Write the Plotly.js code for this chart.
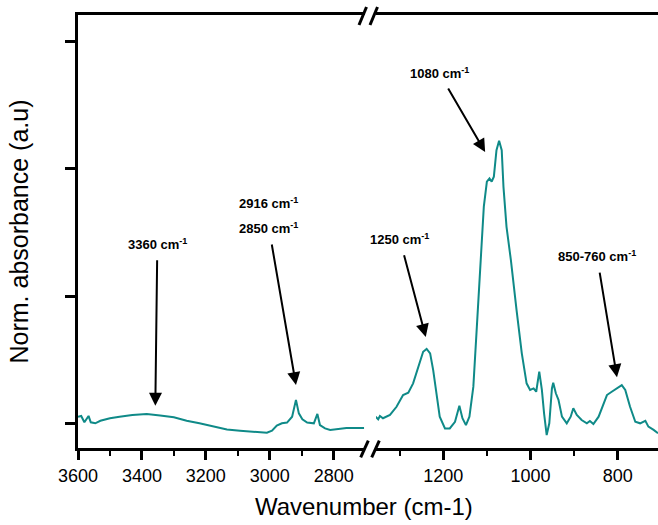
<!DOCTYPE html>
<html>
<head>
<meta charset="utf-8">
<script src="https://cdn.plot.ly/plotly-3.0.1.min.js"></script>
<style>html,body{margin:0;padding:0;background:#fff;}#chart{width:658px;height:525px;}</style>
</head>
<body>
<div id="chart"></div>
<script>
// High-wavenumber region (left panel)
const leftWavenumber = [3600,3590,3580,3567,3560,3546,3530,3500,3470,3430,3385,3360,3343,3300,3260,3220,3176,3134,3093,3050,3009,2993,2978,2962,2946,2930,2918,2909,2898,2883,2862,2851,2843,2827,2811,2760,2705];
const leftAbs = [0.026,0.029,0.004,0.029,0.004,0.000,0.010,0.020,0.026,0.033,0.037,0.035,0.031,0.024,0.010,0.000,-0.013,-0.024,-0.029,-0.033,-0.037,-0.029,-0.009,0.000,0.003,0.026,0.092,0.039,0.016,0.003,0.000,0.037,-0.007,-0.020,-0.026,-0.018,-0.018];

// Fingerprint region (right panel)
const rightWavenumber = [1355,1349,1345,1338,1322,1307,1292,1280,1269,1257,1246,1238,1230,1223,1215,1208,1196,1185,1173,1163,1156,1148,1140,1131,1123,1114,1107,1100,1094,1089,1084,1078,1072,1066,1062,1055,1045,1032,1020,1009,1001,993,987,980,974,969,963,957,951,948,942,936,928,917,908,902,894,883,871,864,856,844,833,825,814,802,791,783,772,760,749,737,730,718,708];
const rightAbs = [0.026,0.016,0.029,0.020,0.033,0.065,0.111,0.120,0.157,0.222,0.281,0.292,0.275,0.209,0.118,0.026,-0.020,-0.020,0.006,0.069,0.020,-0.007,0.026,0.144,0.379,0.641,0.851,0.949,0.962,0.949,0.969,1.073,1.110,1.073,0.929,0.772,0.641,0.445,0.275,0.157,0.131,0.137,0.124,0.203,0.131,0.039,-0.046,0.000,0.137,0.159,0.118,0.092,0.026,0.000,0.026,0.059,0.033,0.013,0.000,0.009,-0.003,0.026,0.079,0.111,0.124,0.137,0.150,0.131,0.065,0.006,0.000,0.010,-0.013,-0.026,-0.039];

// Tick labels
const leftMajorTicks = [3600,3400,3200,3000,2800];
const leftMinorTicks = [3500,3300,3100,2900];
const rightMajorTicks = [1200,1000,800];
const rightMinorTicks = [1300,1100,900];
const yTicks = [0,0.5,1,1.5];

// Peak labels and the points their arrows mark
const peakLabels = ['3360 cm<sup>-1</sup>','2850 cm<sup>-1</sup>','1250 cm<sup>-1</sup>','1080 cm<sup>-1</sup>','850-760 cm<sup>-1</sup>'];
const extraLabel = '2916 cm<sup>-1</sup>';
const arrowAxis = ['x','x','x2','x2','x2'];
const arrowWavenumber = [3358,2918,1240,1104,802];
const arrowAbs = [0.069,0.150,0.339,1.066,0.181];

const FONT = 'Arial, "Liberation Sans", sans-serif';
const TEAL = '#0f8a88';

// pixel -> paper helpers (plot area 78..658 x 15..448)
const px = p => (p - 78) / 580;
const py = p => (448 - p) / 433;

const traces = [
  {x: leftWavenumber, y: leftAbs, xaxis: 'x', yaxis: 'y', mode: 'lines', line: {color: TEAL, width: 2}, hoverinfo: 'skip'},
  {x: rightWavenumber, y: rightAbs, xaxis: 'x2', yaxis: 'y', mode: 'lines', line: {color: TEAL, width: 2}, hoverinfo: 'skip'}
];

const xCommon = {
  showline: true, linewidth: 3, linecolor: '#000', mirror: true,
  ticks: 'outside', ticklen: 9, tickwidth: 3, tickcolor: '#000',
  showgrid: false, zeroline: false,
  tickfont: {family: FONT, size: 18, color: '#000'},
  anchor: 'y', fixedrange: true
};

const layout = {
  width: 658, height: 525,
  margin: {l: 78, r: 0, t: 15, b: 77},
  paper_bgcolor: '#fff', plot_bgcolor: '#fff',
  showlegend: false,
  font: {family: FONT, color: '#000'},
  xaxis: Object.assign({}, xCommon, {
    domain: [0, px(365)], range: [3600, 2702],
    tickmode: 'array', tickvals: leftMajorTicks, ticktext: leftMajorTicks.map(String),
    minor: {tickmode: 'array', tickvals: leftMinorTicks, ticks: 'outside', ticklen: 5, tickwidth: 2, tickcolor: '#000', showgrid: false}
  }),
  xaxis2: Object.assign({}, xCommon, {
    domain: [px(376), 1], range: [1354, 708],
    tickmode: 'array', tickvals: rightMajorTicks, ticktext: rightMajorTicks.map(String),
    minor: {tickmode: 'array', tickvals: rightMinorTicks, ticks: 'outside', ticklen: 5, tickwidth: 2, tickcolor: '#000', showgrid: false}
  }),
  yaxis: {
    domain: [0, 1], range: [-0.097, 1.604],
    showline: true, linewidth: 3, linecolor: '#000',
    ticks: 'outside', ticklen: 10, tickwidth: 3, tickcolor: '#000',
    tickmode: 'array', tickvals: yTicks, showticklabels: false,
    showgrid: false, zeroline: false, fixedrange: true,
    title: {text: 'Norm. absorbance (a.u)', font: {family: FONT, size: 25, color: '#000'}, standoff: 30}
  },
  shapes: [
    {type: 'line', xref: 'paper', yref: 'paper', x0: px(360.7), y0: py(457.3), x1: px(368.3), y1: py(440.7), line: {color: '#000', width: 3}},
    {type: 'line', xref: 'paper', yref: 'paper', x0: px(371.7), y0: py(457.3), x1: px(379.3), y1: py(440.7), line: {color: '#000', width: 3}},
    {type: 'line', xref: 'paper', yref: 'paper', x0: px(359), y0: py(25), x1: px(366.5), y1: py(7), line: {color: '#000', width: 3}},
    {type: 'line', xref: 'paper', yref: 'paper', x0: px(370), y0: py(25), x1: px(377.5), y1: py(7), line: {color: '#000', width: 3}}
  ],
  annotations: []
};

// x-axis title spanning the broken axis
layout.annotations.push({
  text: 'Wavenumber (cm-1)', xref: 'paper', yref: 'paper', x: px(364), y: py(506),
  xanchor: 'center', yanchor: 'middle', showarrow: false,
  font: {family: FONT, size: 24, color: '#000'}
});

// upper label of the CH stretch pair (no arrow of its own)
layout.annotations.push({
  text: '<b>' + extraLabel + '</b>', xref: 'paper', yref: 'paper',
  x: px(268), y: py(203), xanchor: 'center', yanchor: 'middle',
  showarrow: false, font: {family: FONT, size: 13, color: '#000'}
});

// labels with arrows: offsets (px) from arrow tip to label centre
const labelOffset = [[2, -162], [-27, -157], [-26, -98], [-46, -79], [-20, -121]];
peakLabels.forEach((t, i) => {
  layout.annotations.push({
    text: '<b>' + t + '</b>', xref: arrowAxis[i], yref: 'y',
    x: arrowWavenumber[i], y: arrowAbs[i],
    ax: labelOffset[i][0], ay: labelOffset[i][1],
    showarrow: true, arrowhead: 2, arrowsize: 1.3, arrowwidth: 2, arrowcolor: '#000',
    standoff: 0, startstandoff: 7,
    font: {family: FONT, size: 13, color: '#000'}
  });
});

Plotly.newPlot('chart', traces, layout, {staticPlot: true, displayModeBar: false});
</script>
</body>
</html>
